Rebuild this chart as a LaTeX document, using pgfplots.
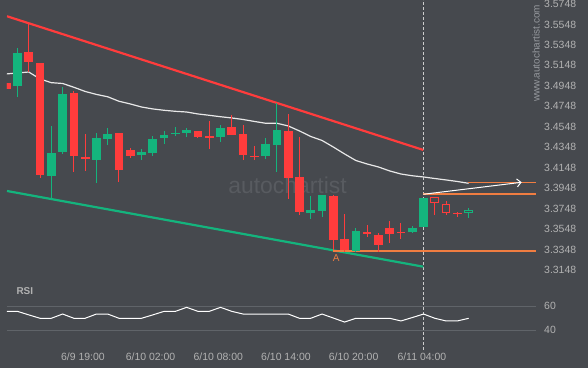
\documentclass[border=0pt]{standalone}
\usepackage{fontspec}
\setmainfont{Liberation Sans}
\usepackage{pgfplots}
\pgfplotsset{compat=1.18}
\usepackage{pgfplotstable}
\usetikzlibrary{arrows.meta}
\definecolor{bg}{RGB}{70,73,78}
\definecolor{cgreen}{RGB}{20,180,125}
\definecolor{cred}{RGB}{255,60,60}
\definecolor{corange}{RGB}{240,125,65}
\definecolor{txt}{RGB}{178,178,178}
\definecolor{txtdim}{RGB}{150,153,158}
\definecolor{gridc}{RGB}{96,100,105}
\definecolor{wm}{RGB}{88,91,96}
\definecolor{dashc}{RGB}{205,205,205}
\definecolor{ma}{RGB}{232,232,232}

\pgfplotstableread{
i o h l c
1 3.4950 3.5315 3.4842 3.5266
4 3.4070 3.4556 3.3842 3.4292
5 3.4301 3.4934 3.4285 3.4868
8 3.4226 3.4484 3.3996 3.4438
9 3.4431 3.4533 3.4373 3.4477
12 3.4275 3.4331 3.4220 3.4301
13 3.4292 3.4458 3.4265 3.4428
14 3.4441 3.4504 3.4377 3.4468
15 3.4481 3.4546 3.4461 3.4487
16 3.4490 3.4533 3.4451 3.4517
19 3.4451 3.4562 3.4396 3.4536
23 3.4262 3.4435 3.4230 3.4380
24 3.4373 3.4777 3.4103 3.4517
27 3.3708 3.3874 3.3644 3.3735
28 3.3728 3.3885 3.3663 3.3881
31 3.3334 3.3556 3.3327 3.3529
36 3.3522 3.3575 3.3507 3.3559
37 3.3571 3.3855 3.3565 3.3849
}\greentab

\pgfplotstableread{
i o h l c
0 3.4976 3.4980 3.4915 3.4920
2 3.5279 3.5560 3.5086 3.5184
3 3.5171 3.5175 3.4044 3.4080
6 3.4878 3.4898 3.4109 3.4265
7 3.4253 3.4477 3.4119 3.4236
10 3.4487 3.4490 3.4011 3.4128
11 3.4321 3.4341 3.4240 3.4265
17 3.4507 3.4510 3.4435 3.4451
18 3.4451 3.4602 3.4328 3.4445
20 3.4546 3.4660 3.4468 3.4471
21 3.4477 3.4562 3.4220 3.4272
22 3.4262 3.4357 3.4220 3.4256
25 3.4507 3.4673 3.3839 3.4047
26 3.4057 3.4451 3.3686 3.3718
29 3.3871 3.3881 3.3344 3.3444
30 3.3451 3.3695 3.3327 3.3346
32 3.3519 3.3585 3.3468 3.3503
33 3.3490 3.3507 3.3321 3.3395
34 3.3559 3.3624 3.3415 3.3503
35 3.3519 3.3605 3.3448 3.3513
40 3.3703 3.3718 3.3663 3.3698
}\redtab

\pgfplotstableread{
i o h l c
38 3.3855 3.3857 3.3683 3.3810
39 3.3790 3.3825 3.3689 3.3712
}\hollowred

\pgfplotstableread{
i o h l c
41 3.3705 3.3757 3.3653 3.3732
}\hollowgreen

\pgfplotstableread{
i v
0 3.5064
1 3.5074
2 3.5083
3 3.5015
4 3.4979
5 3.4971
6 3.4934
7 3.4893
8 3.4864
9 3.4841
10 3.4797
11 3.4771
12 3.4741
13 3.4722
14 3.4709
15 3.4699
16 3.4692
17 3.4673
18 3.4660
19 3.4646
20 3.4634
21 3.4619
22 3.4600
23 3.4582
24 3.4582
25 3.4556
26 3.4507
27 3.4453
28 3.4414
29 3.4350
30 3.4282
31 3.4218
32 3.4184
33 3.4155
34 3.4116
35 3.4086
36 3.4069
37 3.4057
38 3.4042
39 3.4028
40 3.4013
41 3.3995
}\matab

\pgfplotstableread{
i v
0 55.6
1 55.6
2 52.7
3 49.9
4 49.9
5 53.4
6 49.9
7 49.9
8 53.4
9 53.4
10 49.9
11 49.9
12 49.9
13 52.7
14 55.6
15 55.6
16 58.9
17 55.6
18 55.6
19 58.9
20 55.6
21 53.4
22 53.4
23 53.4
24 53.4
25 53.4
26 49.9
27 49.9
28 53.4
29 50.1
30 46.8
31 49.9
32 49.9
33 49.9
34 49.9
35 47.7
36 50.5
37 53.4
38 49.9
39 47.7
40 47.7
41 49.9
}\rsitab

\pgfplotsset{
  wick/.style={draw=none, no markers, forget plot,
    error bars/.cd, y dir=both, y explicit, error mark=none,
    error bar style={line width=1bp, draw=#1, solid}},
  body/.style={draw=none, no markers, forget plot,
    error bars/.cd, y dir=both, y explicit, error mark=none,
    error bar style={line width=8.7bp, draw=#1, solid}},
  common/.style={scale only axis, anchor=south west, width=529bp,
    xmin=0.071, xmax=46.97, axis line style={draw=none},
    major tick length=0pt, yticklabel pos=right,
    yticklabel style={anchor=west, inner sep=0pt, xshift=8bp,
      font=\fontsize{10.5}{12}\selectfont, text=txt},
    xticklabel style={anchor=north, inner sep=0pt, yshift=-3bp,
      font=\fontsize{10.5}{12}\selectfont, text=txt}},
}

\begin{document}
\begin{tikzpicture}
\fill[bg] (0,0) rectangle (588bp,368bp);
\useasboundingbox (0,0) rectangle (588bp,368bp);

\begin{axis}[common, at={(7bp,88bp)}, height=280bp,
  ymin=3.3050, ymax=3.5787, xtick=\empty,
  ytick={3.3148,3.3348,3.3548,3.3748,3.3948,3.4148,3.4348,3.4548,3.4748,3.4948,3.5148,3.5348,3.5548,3.5748},
  yticklabels={3.3148,3.3348,3.3548,3.3748,3.3948,3.4148,3.4348,3.4548,3.4748,3.4948,3.5148,3.5348,3.5548,3.5748}]
  \node[text=wm, font=\fontsize{23}{26}\selectfont] at (axis cs:24.94,3.3979) {autochartist};
  \addplot[dashc, line width=0.8bp, dash pattern=on 3bp off 2bp] coordinates {(37.03,3.3050) (37.03,3.5787)};
  % channel lines
  \addplot[cred, line width=2.2bp] coordinates {(0.071,3.5628) (36.98,3.4321)};
  \addplot[cgreen, line width=2.2bp] coordinates {(0.071,3.3920) (36.98,3.3180)};
  % moving average
  \addplot[ma, line width=1.2bp] table[x=i, y=v] {\matab};
  % orange levels
  \addplot[corange, line width=1.2bp] coordinates {(40.97,3.4005) (46.97,3.4005)};
  \addplot[corange, line width=1.2bp] coordinates {(36.98,3.3891) (46.97,3.3891)};
  \addplot[corange, line width=1.2bp] coordinates {(29.0,3.3334) (46.97,3.3334)};
  % candles
  \addplot[wick=cgreen] table[x=i, y expr={(\thisrow{h}+\thisrow{l})/2}, y error expr={(\thisrow{h}-\thisrow{l})/2}] {\greentab};
  \addplot[body=cgreen] table[x=i, y expr={(\thisrow{o}+\thisrow{c})/2}, y error expr={max(abs(\thisrow{o}-\thisrow{c})/2,0.0007)}] {\greentab};
  \addplot[wick=cred] table[x=i, y expr={(\thisrow{h}+\thisrow{l})/2}, y error expr={(\thisrow{h}-\thisrow{l})/2}] {\redtab};
  \addplot[body=cred] table[x=i, y expr={(\thisrow{o}+\thisrow{c})/2}, y error expr={max(abs(\thisrow{o}-\thisrow{c})/2,0.0007)}] {\redtab};
  \addplot[wick=cred] table[x=i, y expr={(\thisrow{h}+\thisrow{l})/2}, y error expr={(\thisrow{h}-\thisrow{l})/2}] {\hollowred};
  \addplot[wick=cgreen] table[x=i, y expr={(\thisrow{h}+\thisrow{l})/2}, y error expr={(\thisrow{h}-\thisrow{l})/2}] {\hollowgreen};
  \addplot[draw=cred, fill=bg, line width=1bp] coordinates {(37.655,3.3855) (38.345,3.3855) (38.345,3.3810) (37.655,3.3810)} --cycle;
  \addplot[draw=cred, fill=bg, line width=1bp] coordinates {(38.655,3.3790) (39.345,3.3790) (39.345,3.3712) (38.655,3.3712)} --cycle;
  \addplot[draw=cgreen, fill=bg, line width=1bp] coordinates {(40.655,3.3705) (41.345,3.3705) (41.345,3.3732) (40.655,3.3732)} --cycle;
  % projection arrow
  \addplot[white, line width=1bp, -{Straight Barb[length=4bp,width=8bp]}] coordinates {(36.98,3.3888) (45.7,3.4005)};
  \node[text=corange, font=\fontsize{10}{12}\selectfont] at (axis cs:29.26,3.3268) {A};
\end{axis}

\begin{axis}[common, at={(7bp,18bp)}, height=70bp,
  ymin=23.8, ymax=81.4,
  ytick={40,60}, yticklabels={40,60},
  ymajorgrids, grid style={gridc, line width=0.8bp},
  xtick={6.8,12.8,18.8,24.8,30.8,36.85},
  xticklabels={6/9 19:00,6/10 02:00,6/10 08:00,6/10 14:00,6/10 20:00,6/11 04:00}]
  \addplot[dashc, line width=0.8bp, dash pattern=on 3bp off 2bp] coordinates {(37.03,23.8) (37.03,81.4)};
  \addplot[white, line width=1bp] table[x=i, y=v] {\rsitab};
\end{axis}

\node[anchor=west, text=txt, font=\bfseries\fontsize{10}{12}\selectfont] at (13bp,77bp) {RSI};
\node[rotate=90, text=txtdim, font=\fontsize{10}{12}\selectfont] at (536bp,314.5bp) {www.autochartist.com};
\end{tikzpicture}
\end{document}
